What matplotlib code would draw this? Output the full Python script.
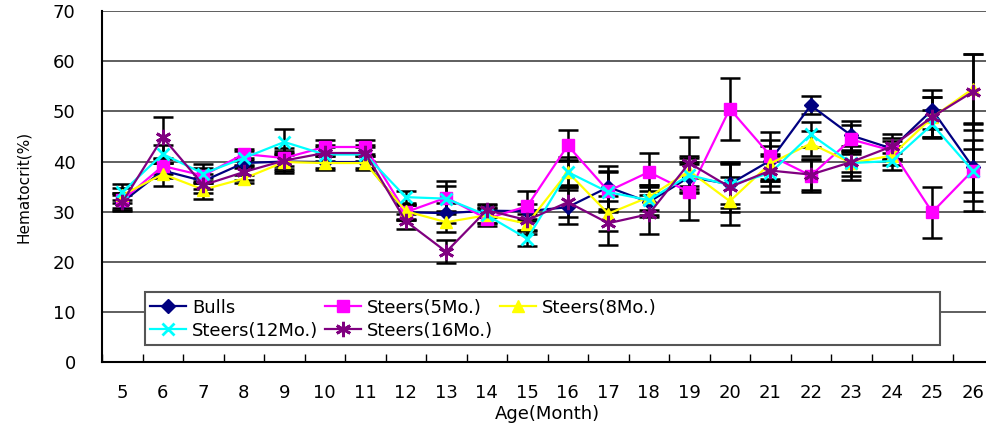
import matplotlib
matplotlib.use('Agg')
import matplotlib.pyplot as plt
from matplotlib.patches import Rectangle

plt.rcParams['font.family'] = ['DejaVu Sans']

# ages in months
months = list(range(5, 27))

# mean hematocrit (%)
bulls = [31.9, 38.2, 36.1, 39.7, 40.0, 39.9, 39.9, 29.9, 29.7, 30.2, 30.1, 30.9, 34.9, 31.9, 36.9, 35.5, 40.2, 51.2, 45.2, 42.6, 50.3, 38.9]
steers5 = [32.3, 39.1, 37.2, 41.5, 40.7, 42.9, 42.9, 29.9, 32.8, 28.6, 31.1, 43.2, 34.1, 37.9, 33.9, 50.5, 41.2, 37.2, 44.4, 42.2, 29.9, 38.2]
steers8 = [33.3, 37.5, 34.4, 36.6, 39.9, 39.7, 39.7, 30.1, 27.9, 29.3, 27.6, 37.9, 29.6, 32.9, 38.1, 32.1, 39.6, 43.6, 39.7, 41.2, 48.8, 54.5]
steers12 = [33.9, 41.5, 37.6, 40.7, 43.9, 41.4, 41.4, 32.9, 32.6, 29.3, 24.6, 37.9, 33.9, 32.3, 37.3, 35.3, 37.7, 45.4, 39.7, 40.1, 47.4, 38.2]
steers16 = [31.9, 44.8, 35.3, 37.9, 40.2, 41.7, 41.7, 28.1, 22.0, 30.3, 28.3, 31.9, 27.7, 29.5, 39.7, 34.9, 38.2, 37.4, 39.9, 43.0, 48.9, 53.9]

# error bar half-widths (estimated)
err_bulls = [1.5, 1.5, 1.5, 1.0, 1.5, 1.2, 1.2, 1.5, 2.0, 1.2, 1.5, 3.4, 4.3, 3.0, 3.0, 4.0, 4.0, 1.8, 2.9, 2.0, 3.9, 8.8]
err_steers5 = [1.5, 1.5, 1.5, 1.1, 1.5, 1.3, 1.3, 1.5, 3.3, 1.5, 3.0, 3.1, 4.0, 3.8, 5.6, 6.2, 4.7, 3.3, 2.8, 1.8, 5.1, 4.3]
err_steers8 = [1.5, 2.3, 1.8, 0.8, 1.8, 1.4, 1.4, 1.5, 2.0, 1.5, 2.0, 2.5, 3.5, 2.5, 3.0, 4.8, 3.5, 2.5, 2.5, 1.8, 4.0, 7.0]
err_steers12 = [1.6, 1.8, 1.9, 1.5, 2.6, 1.5, 1.5, 1.2, 2.5, 1.5, 1.5, 3.0, 4.0, 3.0, 3.5, 4.5, 3.8, 2.5, 3.4, 1.7, 2.8, 6.0]
err_steers16 = [1.8, 4.1, 1.5, 1.5, 2.5, 1.5, 1.5, 1.5, 2.3, 1.3, 2.0, 3.0, 4.4, 3.9, 5.2, 5.0, 3.0, 3.0, 2.0, 2.5, 4.0, 7.6]

labels = ['Bulls', 'Steers(5Mo.)', 'Steers(8Mo.)', 'Steers(12Mo.)', 'Steers(16Mo.)']

fig = plt.figure(figsize=(9.86, 4.28), dpi=100)
ax = fig.add_axes([0.1035, 0.154, 0.9036, 0.82])

series = [
    (bulls, err_bulls, '#000080', 'D', 7),
    (steers5, err_steers5, '#FF00FF', 's', 9),
    (steers8, err_steers8, '#FFFF00', '^', 9),
    (steers12, err_steers12, '#00FFFF', 'x', 9),
    (steers16, err_steers16, '#800080', (6, 2, 0), 11),
]

handles = []
for (vals, errs, col, mk, ms), lab in zip(series, labels):
    ax.errorbar(months, vals, yerr=errs, fmt='none', ecolor='black',
                elinewidth=1.8, capsize=7, capthick=1.8, zorder=2)
    h, = ax.plot(months, vals, color=col, marker=mk, markersize=ms,
                 markeredgewidth=2 if mk in ('x', (6, 2, 0)) else 1,
                 linewidth=1.6, label=lab, zorder=3)
    handles.append(h)

ax.set_xlim(4.5, 26.5)
ax.set_ylim(0, 70)
ax.set_xticks(months)
ax.set_xticks([m + 0.5 for m in range(4, 27)], minor=True)
ax.set_yticks(range(0, 71, 10))
ax.tick_params(axis='x', which='major', length=0, pad=16, labelsize=13)
ax.tick_params(axis='x', which='minor', direction='in', length=6, width=1)
ax.tick_params(axis='y', length=0, pad=19, labelsize=13)

for y in range(10, 71, 10):
    ax.axhline(y, color='#333333', linewidth=1.1, zorder=1)

for s in ['top', 'right']:
    ax.spines[s].set_visible(False)
ax.spines['left'].set_linewidth(1.5)
ax.spines['bottom'].set_linewidth(1.5)

ax.set_xlabel('Age(Month)', fontsize=13, labelpad=2)
ax.set_ylabel('Hematocrit(%)', fontsize=11, labelpad=16)

# legend box
ax.add_patch(Rectangle((0.048, 0.05), 0.892, 0.149, transform=ax.transAxes,
                       facecolor='white', edgecolor='#555555', linewidth=1.5,
                       zorder=5))
order = [0, 3, 1, 4, 2]
leg = ax.legend([handles[i] for i in order], [labels[i] for i in order],
                ncol=3, loc='upper left', bbox_to_anchor=(0.048, 0.196),
                frameon=False, fontsize=13, handlelength=2.0,
                handletextpad=0.3, columnspacing=0.4, labelspacing=0.28,
                borderaxespad=0, borderpad=0.3)
leg.set_zorder(6)

fig.savefig('out.png', dpi=100)
